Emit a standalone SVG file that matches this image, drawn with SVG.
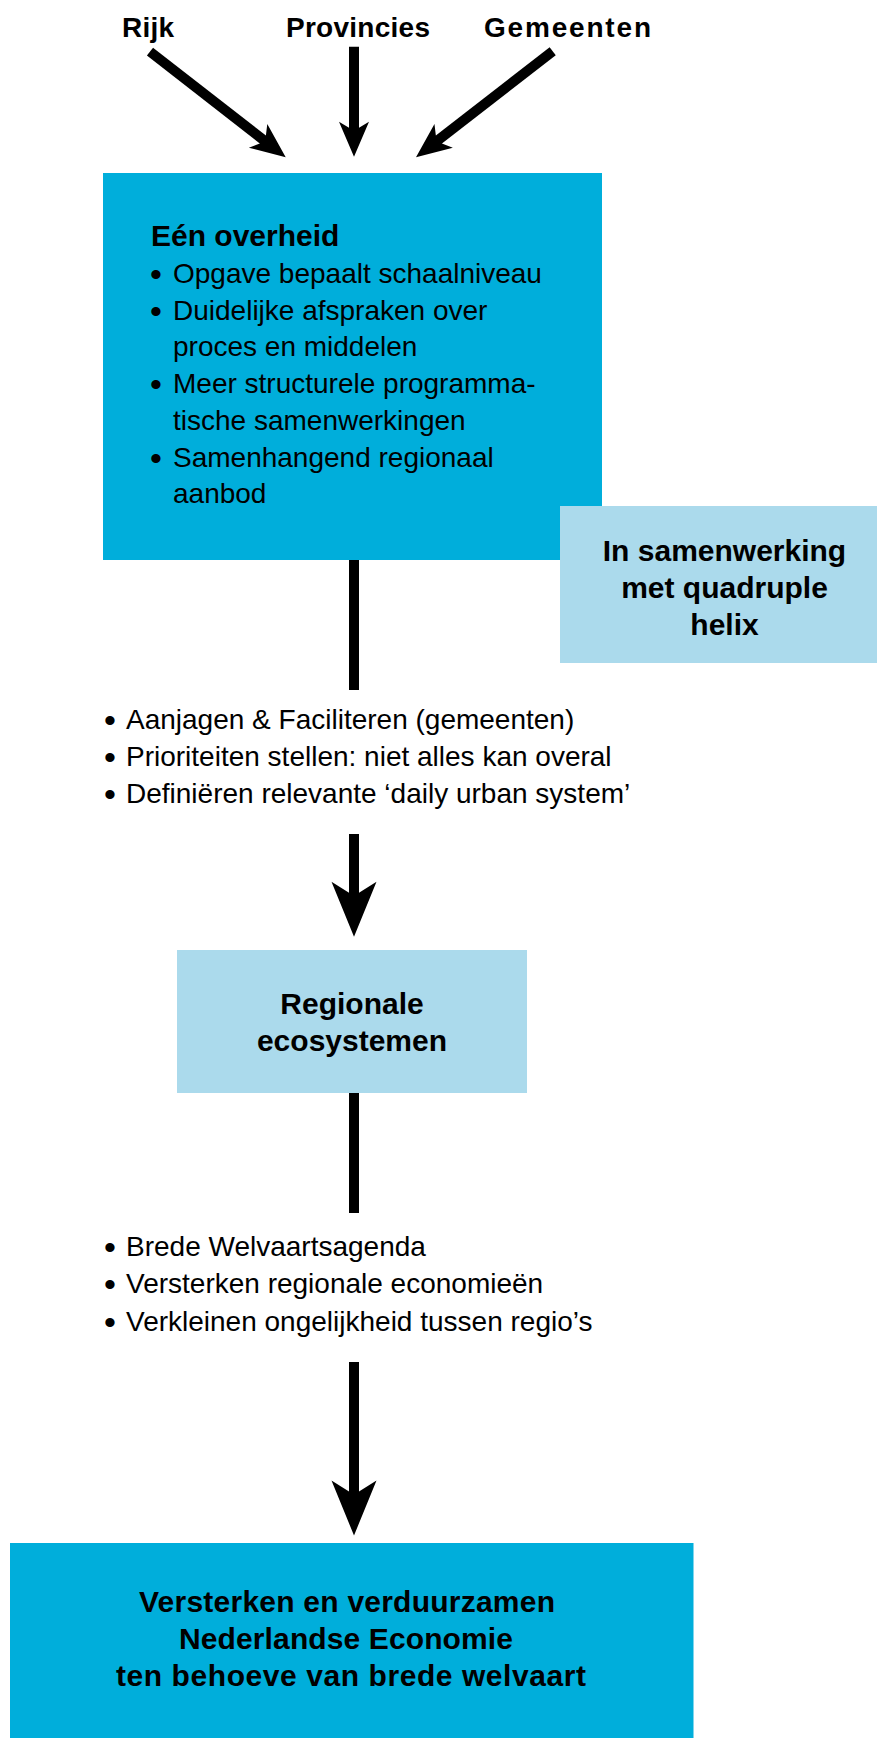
<svg xmlns="http://www.w3.org/2000/svg" width="877" height="1738" viewBox="0 0 877 1738">
  <style>
    .bold { font-family: "Liberation Sans", Arial, sans-serif; font-weight: bold; font-size: 30px; fill: #000; }
    .top { font-family: "Liberation Sans", Arial, sans-serif; font-weight: bold; font-size: 28px; fill: #000; }
    .body { font-family: "Liberation Sans", Arial, sans-serif; font-size: 28px; fill: #000; }
    .bullet { font-size: 34px; }
    .mid { text-anchor: middle; }
    .dark { fill: #00AEDB; }
    .light { fill: #ABDAEC; }
    .shaft { stroke: #000; stroke-width: 10; fill: none; }
    .head { fill: #000; }
  </style>
  <defs>
    <!-- arrowheads drawn pointing down (+y), tip at the origin -->
    <polygon id="headSmall" class="head" points="0,0 15,-35 5,-29 -5,-29 -15,-35"/>
    <polygon id="headLarge" class="head" points="0,0 22.5,-55 5,-44 -5,-44 -22.5,-55"/>
  </defs>

  <rect width="877" height="1738" fill="#fff"/>

  <!-- source labels -->
  <g id="rijk"><text class="top" x="122" y="37" textLength="52" lengthAdjust="spacing">Rijk</text></g>
  <g id="provincies"><text class="top" x="286" y="37" textLength="144" lengthAdjust="spacing">Provincies</text></g>
  <g id="gemeenten"><text class="top" x="484" y="37" textLength="167" lengthAdjust="spacing">Gemeenten</text></g>

  <!-- main government box -->
  <g id="een-overheid">
    <rect class="dark" x="103" y="173" width="499" height="387"/>
    <text class="bold" x="151" y="245.5">Eén overheid</text>
    <text class="body"><tspan class="bullet" x="150" y="286">•</tspan><tspan x="173" y="283">Opgave bepaalt schaalniveau</tspan></text>
    <text class="body"><tspan class="bullet" x="150" y="322.5">•</tspan><tspan x="173" y="319.5">Duidelijke afspraken over</tspan></text>
    <text class="body" x="173" y="356">proces en middelen</text>
    <text class="body"><tspan class="bullet" x="150" y="395.5">•</tspan><tspan x="173" y="392.5">Meer structurele programma-</tspan></text>
    <text class="body" x="173" y="429.5">tische samenwerkingen</text>
    <text class="body"><tspan class="bullet" x="150" y="469.5">•</tspan><tspan x="173" y="466.5">Samenhangend regionaal</tspan></text>
    <text class="body" x="173" y="503">aanbod</text>
  </g>

  <!-- collaboration box -->
  <g id="quadruple-helix">
    <rect class="light" x="560" y="506" width="317" height="157"/>
    <text class="bold mid" x="724.5" y="561">In samenwerking</text>
    <text class="bold mid" x="724.5" y="598">met quadruple</text>
    <text class="bold mid" x="724.5" y="635">helix</text>
  </g>

  <!-- first list of actions -->
  <g id="acties-1">
    <text class="body"><tspan class="bullet" x="104" y="732">•</tspan><tspan x="126" y="729">Aanjagen &amp; Faciliteren (gemeenten)</tspan></text>
    <text class="body"><tspan class="bullet" x="104" y="769">•</tspan><tspan x="126" y="766">Prioriteiten stellen: niet alles kan overal</tspan></text>
    <text class="body"><tspan class="bullet" x="104" y="806">•</tspan><tspan x="126" y="803">Definiëren relevante ‘daily urban system’</tspan></text>
  </g>

  <!-- regional ecosystems box -->
  <g id="regionale-ecosystemen">
    <rect class="light" x="177" y="950" width="350" height="143"/>
    <text class="bold mid" x="352" y="1014">Regionale</text>
    <text class="bold mid" x="352" y="1051">ecosystemen</text>
  </g>

  <!-- second list of actions -->
  <g id="acties-2">
    <text class="body"><tspan class="bullet" x="104" y="1259">•</tspan><tspan x="126" y="1256">Brede Welvaartsagenda</tspan></text>
    <text class="body"><tspan class="bullet" x="104" y="1296">•</tspan><tspan x="126" y="1293">Versterken regionale economieën</tspan></text>
    <text class="body"><tspan class="bullet" x="104" y="1334">•</tspan><tspan x="126" y="1331">Verkleinen ongelijkheid tussen regio’s</tspan></text>
  </g>

  <!-- goal box -->
  <g id="doel">
    <rect class="dark" x="10" y="1543" width="683.5" height="195"/>
    <text class="bold mid" x="347" y="1611.5" textLength="416" lengthAdjust="spacing">Versterken en verduurzamen</text>
    <text class="bold mid" x="346" y="1648.5" textLength="334" lengthAdjust="spacing">Nederlandse Economie</text>
    <text class="bold mid" x="351" y="1685.5" textLength="470" lengthAdjust="spacing">ten behoeve van brede welvaart</text>
  </g>

  <!-- connectors -->
  <g id="connectors">
    <!-- Rijk -> main box -->
    <g transform="translate(285.7,157.3) rotate(-52.1)">
      <line class="shaft" x1="0" y1="-20" x2="0" y2="-172"/>
      <use href="#headSmall"/>
    </g>
    <!-- Provincies -> main box -->
    <g transform="translate(354,156.7)">
      <line class="shaft" x1="0" y1="-20" x2="0" y2="-110"/>
      <use href="#headSmall"/>
    </g>
    <!-- Gemeenten -> main box -->
    <g transform="translate(416,157.3) rotate(52.2)">
      <line class="shaft" x1="0" y1="-20" x2="0" y2="-173"/>
      <use href="#headSmall"/>
    </g>
    <!-- main box -> first list -->
    <line class="shaft" x1="354" y1="560" x2="354" y2="690"/>
    <!-- first list -> regional ecosystems -->
    <g transform="translate(354,936.7)">
      <line class="shaft" x1="0" y1="-35" x2="0" y2="-102.7"/>
      <use href="#headLarge"/>
    </g>
    <!-- regional ecosystems -> second list -->
    <line class="shaft" x1="354" y1="1093" x2="354" y2="1213"/>
    <!-- second list -> goal -->
    <g transform="translate(354,1535.5)">
      <line class="shaft" x1="0" y1="-35" x2="0" y2="-173.5"/>
      <use href="#headLarge"/>
    </g>
  </g>
</svg>
